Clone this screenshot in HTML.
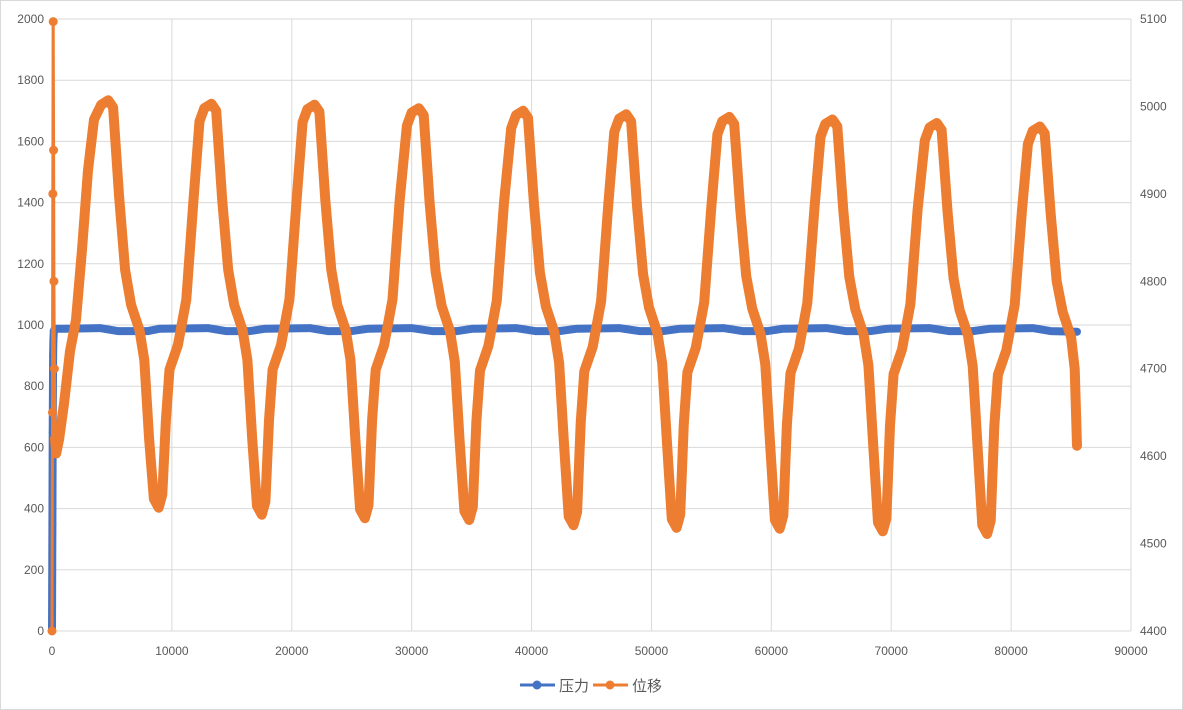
<!DOCTYPE html>
<html><head><meta charset="utf-8"><style>
body{margin:0;background:#fff;}
svg{display:block;font-family:"Liberation Sans","Noto Sans CJK SC",sans-serif;}
</style></head><body>
<svg id="chart" width="1183" height="710" viewBox="0 0 1183 710">
<rect x="0.5" y="0.5" width="1182" height="709" fill="#fff" stroke="#d9d9d9"/>
<g id="grid"></g>
<g id="axes"></g>
<g id="series"></g>
<g>
<g>
<line x1="520" y1="685" x2="555" y2="685" stroke="#4472c4" stroke-width="3"/><circle cx="537" cy="685" r="4.5" fill="#4472c4"/>
<text x="559" y="691" font-size="15" fill="#595959">压力</text></g>
<g>
<line x1="593" y1="685" x2="628" y2="685" stroke="#ed7d31" stroke-width="3"/><circle cx="610" cy="685" r="4.5" fill="#ed7d31"/>
<text x="632" y="691" font-size="15" fill="#595959">位移</text></g>
</g>
</svg>
<script>
const xTicks=[0,10000,20000,30000,40000,50000,60000,70000,80000,90000];
const leftTicks=[0,200,400,600,800,1000,1200,1400,1600,1800,2000];
const rightTicks=[4400,4500,4600,4700,4800,4900,5000,5100];
const pressureX=[0,30,60,90,120,150,200,300,1000,4000,5500,8000,9000,13000,14500,16500,17800,21500,23000,25000,26400,30000,31700,33800,35100,38700,40300,42300,43800,47300,49000,51000,52400,56000,57600,59700,61000,64600,66200,68300,69700,73200,74800,76800,78300,81800,83300,85500];
const pressureY=[0,350,650,900,950,980,985,988,988,990,980,980,988,990,980,980,988,990,980,980,988,990,980,980,988,990,980,980,988,990,980,980,988,990,980,980,988,990,980,980,988,990,980,980,988,990,980,978];
const dispX=[0,40,70,100,130,160,200,250,350,600,1000,1500,2000,2500,3000,3500,4100,4700,5100,5600,6100,6600,7300,7700,8100,8500,8900,9200,9500,9800,10500,11200,11800,
12300,12700,13300,13700,14200,14700,15200,15900,16300,16700,17100,17500,17800,18100,18400,19100,19800,20400,
20900,21300,21900,22300,22800,23300,23800,24500,24900,25300,25700,26100,26400,26700,27000,27700,28400,29000,
29600,30000,30600,31000,31500,32000,32500,33200,33600,34000,34400,34800,35100,35400,35700,36400,37100,37700,
38300,38700,39300,39700,40200,40700,41200,41900,42300,42700,43100,43500,43800,44100,44400,45100,45800,46400,
46900,47300,47900,48300,48800,49300,49800,50500,50900,51300,51700,52100,52400,52700,53000,53700,54400,55000,
55500,55900,56500,56900,57400,57900,58400,59100,59500,59900,60300,60700,61000,61300,61600,62300,63000,63600,
64100,64500,65100,65500,66000,66500,67000,67700,68100,68500,68900,69300,69600,69900,70200,70900,71600,72200,
72800,73200,73800,74200,74700,75200,75700,76400,76800,77200,77600,78000,78300,78600,78900,79600,80300,80900,
81400,81800,82400,82800,83300,83800,84300,85000,85300,85500];
const dispY=[4400,4650,4900,5097,4950,4800,4700,4620,4603,4620,4660,4720,4756,4836,4927,4985,5002,5007,4999,4897,4813,4773,4744,4710,4620,4551,4541,4556,4641,4699,4727,4779,4893,
4983,4998,5003,4995,4893,4813,4773,4744,4710,4620,4543,4533,4548,4641,4699,4727,4779,4893,
4982,4997,5002,4994,4893,4813,4773,4744,4710,4620,4539,4529,4544,4641,4699,4727,4779,4893,
4978,4993,4998,4990,4890,4811,4772,4743,4708,4618,4537,4527,4542,4640,4698,4726,4778,4890,
4975,4990,4995,4987,4888,4810,4771,4742,4707,4616,4531,4521,4536,4638,4697,4725,4777,4888,
4971,4986,4991,4983,4885,4808,4770,4741,4706,4615,4528,4518,4533,4637,4696,4724,4776,4886,
4968,4983,4988,4980,4883,4806,4769,4740,4705,4614,4527,4517,4532,4636,4695,4723,4775,4884,
4965,4980,4985,4977,4881,4805,4768,4739,4704,4613,4524,4514,4529,4635,4694,4722,4774,4882,
4961,4976,4981,4973,4879,4803,4767,4738,4703,4612,4521,4511,4526,4634,4693,4721,4773,4880,
4957,4972,4977,4969,4877,4800,4765,4736,4700,4612];

const L=52,R=1131,T=19,B=631;
const sx=v=>L+(v-0)/90000*(R-L);
const syL=v=>B-v/2000*(B-T);
const syR=v=>B-(v-4400)/700*(B-T);
const NS='http://www.w3.org/2000/svg';
function mk(tag,attrs,parent){const e=document.createElementNS(NS,tag);for(const k in attrs)e.setAttribute(k,attrs[k]);parent.appendChild(e);return e;}
const grid=document.getElementById('grid'),axes=document.getElementById('axes'),series=document.getElementById('series');
leftTicks.forEach(t=>{
  const g=mk('line',{x1:L,x2:R,y1:syL(t),y2:syL(t),stroke:'#d9d9d9','stroke-width':1},grid);
  
  
  const tx=mk('text',{x:44,y:syL(t)+4,'text-anchor':'end','font-size':12,fill:'#595959'},axes);
  tx.textContent=t;
  
  
});
xTicks.forEach(t=>{
  const g=mk('line',{x1:sx(t),x2:sx(t),y1:T,y2:B,stroke:'#d9d9d9','stroke-width':1},grid);
  
  
  const tx=mk('text',{x:sx(t),y:655,'text-anchor':'middle','font-size':12,fill:'#595959'},axes);
  tx.textContent=t;
  
  
});
rightTicks.forEach(t=>{
  const tx=mk('text',{x:1140,y:syR(t)+4,'text-anchor':'start','font-size':12,fill:'#595959'},axes);
  tx.textContent=t;
  
  
});
function path(xs,ys,sy){return xs.map((x,i)=>(i?'L':'M')+sx(x).toFixed(1)+','+sy(ys[i]).toFixed(1)).join('');}
const pl=mk('path',{d:path(pressureX,pressureY,syL),fill:'none',stroke:'#4472c4','stroke-width':8,'stroke-linejoin':'round','stroke-linecap':'round'},series);


pressureX.slice(0,7).forEach((x,i)=>{
  const c=mk('circle',{cx:sx(x),cy:syL(pressureY[i]),r:4,fill:'#4472c4'},series);
  
  
});
const dl=mk('path',{d:path(dispX.slice(7),dispY.slice(7),syR),fill:'none',stroke:'#ed7d31','stroke-width':10,'stroke-linejoin':'round','stroke-linecap':'round'},series);


const ds=mk('path',{d:path(dispX.slice(0,8),dispY.slice(0,8),syR),fill:'none',stroke:'#ed7d31','stroke-width':3},series);


dispX.slice(0,8).forEach((x,i)=>{
  const c=mk('circle',{cx:sx(x),cy:syR(dispY[i]),r:4.5,fill:'#ed7d31'},series);
  
  
});
</script>
</body></html>
